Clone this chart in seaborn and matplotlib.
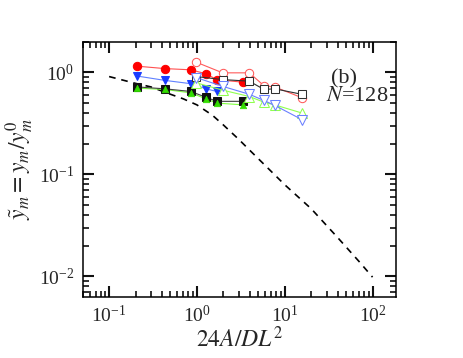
import numpy as np
import matplotlib
matplotlib.use("Agg")
import matplotlib.pyplot as plt
import matplotlib.ticker as mticker
import seaborn as sns

# data (x = 24A/DL^2, y = scaled y_m)
x_fill = [0.21, 0.43, 0.85, 1.27, 1.68, 3.37]
x_open = [0.98, 1.96, 3.95, 5.8, 7.7, 15.6]

red_fill = [1.15, 1.09, 1.06, 0.97, 0.85, 0.80]
blue_fill = [0.92, 0.835, 0.775, 0.69, 0.65]
black_fill = [0.72, 0.69, 0.65, 0.57, 0.52, 0.52]
green_fill = [0.70, 0.68, 0.63, 0.55, 0.50, 0.48]

red_open = [1.26, 0.99, 0.99, 0.74, 0.72, 0.565]
black_open = [0.91, 0.85, 0.82, 0.68, 0.69, 0.61]
blue_open = [0.89, 0.73, 0.61, 0.53, 0.475, 0.345]
green_open = [0.79, 0.67, 0.58, 0.51, 0.48, 0.40]

x_theory = [0.1, 0.2, 0.3, 0.5, 0.7, 1.0, 1.5, 2.0, 3.0, 4.0, 6.0, 10, 20, 40, 70, 100]
y_theory = [0.91, 0.78, 0.72, 0.61, 0.55, 0.48, 0.38, 0.305, 0.22, 0.172, 0.122,
            0.079, 0.046, 0.024, 0.014, 0.0098]

sns.set_style("ticks")
plt.rcParams['font.family'] = ['Liberation Serif', 'DejaVu Serif']
plt.rcParams['mathtext.fontset'] = 'stix'

fig = plt.figure(figsize=(4.63, 3.58), dpi=100)
ax = fig.add_axes([0.1786, 0.1712, 0.6767, 0.7123])
ax.set_xscale('log')
ax.set_yscale('log')

# dashed theory curve
sns.lineplot(x=x_theory, y=y_theory, ax=ax, color='black', linestyle=(0, (4, 3.5)),
             linewidth=1.2, sort=False)

# filled symbols
sns.lineplot(x=x_fill, y=red_fill, ax=ax, color='#ff5050', linewidth=0.8, marker='o',
             markersize=6, markerfacecolor='#ff0000', markeredgecolor='#ff0000', sort=False)
sns.lineplot(x=x_fill[:5], y=blue_fill, ax=ax, color='#6080ff', linewidth=0.8, marker='v',
             markersize=6, markerfacecolor='#1a3cff', markeredgecolor='#1a3cff', sort=False)
sns.lineplot(x=x_fill, y=green_fill, ax=ax, color='#80ff40', linewidth=0.8, sort=False)
sns.lineplot(x=x_fill, y=black_fill, ax=ax, color='#404040', linewidth=0.8, marker='s',
             markersize=5.5, markerfacecolor='#111111', markeredgecolor='#111111',
             sort=False)
sns.scatterplot(x=x_fill, y=green_fill, ax=ax, color='#33dd00', marker='^', s=22,
                edgecolor='#33dd00', linewidth=0.5, zorder=5)

# open symbols
sns.lineplot(x=x_open, y=red_open, ax=ax, color='#ff5a5a', linewidth=0.8, marker='o',
             markersize=6, markerfacecolor='white', markeredgecolor='#ff5a5a', sort=False)
sns.lineplot(x=x_open, y=black_open, ax=ax, color='#303030', linewidth=0.8, marker='s',
             markersize=5.5, markerfacecolor='white', markeredgecolor='#303030', sort=False)
sns.lineplot(x=x_open, y=green_open, ax=ax, color='#90ff50', linewidth=0.8, marker='^',
             markersize=6.5, markerfacecolor='white', markeredgecolor='#90ff50', sort=False)
sns.lineplot(x=x_open, y=blue_open, ax=ax, color='#6a80ff', linewidth=0.8, marker='v',
             markersize=6.5, markerfacecolor='white', markeredgecolor='#6a80ff', sort=False)

ax.set_xlim(0.05, 185)
ax.set_ylim(0.0063, 2.0)

ax.xaxis.set_major_locator(mticker.LogLocator(base=10, numticks=12))
ax.xaxis.set_minor_locator(mticker.LogLocator(base=10, subs=np.arange(2, 10), numticks=12))
ax.xaxis.set_minor_formatter(mticker.NullFormatter())
ax.yaxis.set_major_locator(mticker.LogLocator(base=10, numticks=12))
ax.yaxis.set_minor_locator(mticker.LogLocator(base=10, subs=np.arange(2, 10), numticks=12))
ax.yaxis.set_minor_formatter(mticker.NullFormatter())

for s in ax.spines.values():
    s.set_linewidth(1.1)
    s.set_color('black')

ax.set_xlabel(r'$\mathit{24A/DL}^{\mathit{2}}$', fontsize=17, labelpad=0)
ax.set_ylabel(r'$\tilde{y}_m = y_m/y_m^0$', fontsize=17, labelpad=2)

ax.text(0.835, 0.855, '(b)', transform=ax.transAxes, fontsize=16, ha='center', va='center')
ax.text(0.875, 0.785, r'$\mathit{N}$=128', transform=ax.transAxes, fontsize=16,
        ha='center', va='center')

# inward ticks on all four sides, major and minor set separately per axis
for axis in (ax.xaxis, ax.yaxis):
    axis.set_tick_params(which='major', direction='in', length=8, width=1.5,
                         color='#111111', pad=6, labelsize=14,
                         bottom=True, top=True, left=True, right=True)
    axis.set_tick_params(which='minor', direction='in', length=4.5, width=1.2,
                         color='#111111', bottom=True, top=True, left=True, right=True)

fig.canvas.draw()
fig.savefig('out.png', dpi=100)
